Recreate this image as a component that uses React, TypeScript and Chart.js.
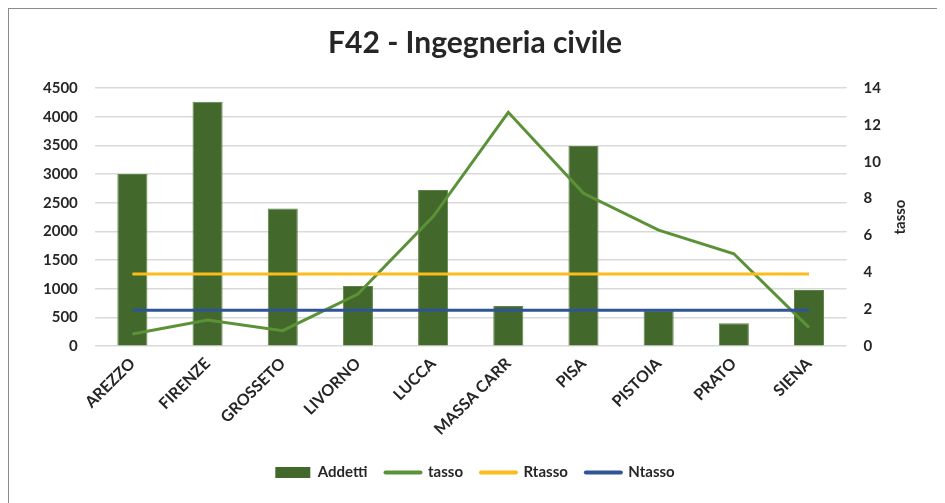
import React, { useEffect, useRef } from "react";
import { Chart, registerables } from "chart.js";

Chart.register(...registerables);

const categories = ["AREZZO", "FIRENZE", "GROSSETO", "LIVORNO", "LUCCA", "MASSA CARR", "PISA", "PISTOIA", "PRATO", "SIENA"];
const addetti = [3000, 4260, 2400, 1050, 2720, 700, 3490, 620, 400, 980];
const tasso = [0.66, 1.42, 0.84, 2.82, 7.03, 12.68, 8.29, 6.29, 5.01, 1.0];
const rtasso = [3.91, 3.91, 3.91, 3.91, 3.91, 3.91, 3.91, 3.91, 3.91, 3.91];
const ntasso = [1.95, 1.95, 1.95, 1.95, 1.95, 1.95, 1.95, 1.95, 1.95, 1.95];

const FONT = "Lato, 'Open Sans', sans-serif";
const TEXT = "#262626";

const rightTitlePlugin = {
  id: "rightTitle",
  afterDraw(chart: any) {
    const s = chart.scales.y1;
    if (!s) return;
    const ctx = chart.ctx;
    ctx.save();
    ctx.translate(s.right - 24, (chart.chartArea.top + chart.chartArea.bottom) / 2);
    ctx.rotate(-Math.PI / 2);
    ctx.font = `bold 15px ${FONT}`;
    ctx.fillStyle = TEXT;
    ctx.textAlign = "center";
    ctx.textBaseline = "middle";
    ctx.fillText("tasso", 0, 0);
    ctx.restore();
  },
};

export default function App() {
  const ref = useRef<HTMLCanvasElement | null>(null);
  useEffect(() => {
    if (!ref.current) return;
    const chart = new Chart(ref.current, {
      type: "bar",
      data: {
        labels: categories,
        datasets: [
          {
            type: "bar",
            label: "Addetti",
            data: addetti,
            backgroundColor: "#43682B",
            borderColor: "#5E8449",
            borderWidth: 1,
            borderSkipped: "bottom",
            barPercentage: 0.4,
            categoryPercentage: 1,
            yAxisID: "y",
            order: 4,
          } as any,
          {
            type: "line",
            label: "tasso",
            data: tasso,
            borderColor: "#5B9238",
            backgroundColor: "#5B9238",
            borderWidth: 3,
            pointRadius: 0,
            yAxisID: "y1",
            order: 3,
          },
          {
            type: "line",
            label: "Rtasso",
            data: rtasso,
            borderColor: "#FBBC1C",
            backgroundColor: "#FBBC1C",
            borderWidth: 3,
            pointRadius: 0,
            yAxisID: "y1",
            order: 2,
          },
          {
            type: "line",
            label: "Ntasso",
            data: ntasso,
            borderColor: "#2F5597",
            backgroundColor: "#2F5597",
            borderWidth: 3,
            pointRadius: 0,
            yAxisID: "y1",
            order: 1,
          },
        ],
      },
      options: {
        animation: false,
        responsive: true,
        maintainAspectRatio: false,
        layout: { padding: { left: 17, right: 21, top: 0, bottom: 13 } },
        plugins: {
          title: {
            display: true,
            text: "F42 - Ingegneria civile",
            color: TEXT,
            font: { family: FONT, size: 30, weight: "bold" },
            padding: { top: 16, bottom: 27 },
          },
          legend: {
            position: "bottom",
            labels: {
              usePointStyle: true,
              pointStyleWidth: 35,
              boxHeight: 11,
              padding: 18,
              color: TEXT,
              font: { family: FONT, size: 15, weight: "bold" },
              sort: (a: any, b: any) => a.datasetIndex - b.datasetIndex,
              generateLabels: (chart: any) => {
                const items = Chart.defaults.plugins.legend.labels.generateLabels(chart);
                return items.map((it: any) => {
                  if (it.datasetIndex === 0) {
                    return { ...it, fillStyle: "#43682B", pointStyle: "rect", lineWidth: 0, strokeStyle: "rgba(0,0,0,0)" };
                  }
                  const ds = chart.data.datasets[it.datasetIndex];
                  return { ...it, pointStyle: "line", lineWidth: 4, strokeStyle: ds.borderColor, lineCap: "round" };
                });
              },
            },
          },
          tooltip: { enabled: false },
        },
        scales: {
          x: {
            grid: { display: false, drawTicks: false },
            border: { display: false },
            ticks: {
              color: TEXT,
              font: { family: FONT, size: 16, weight: "bold" },
              maxRotation: 45,
              minRotation: 45,
              padding: 8,
              autoSkip: false,
            },
          },
          y: {
            position: "left",
            min: 0,
            max: 4500,
            grid: { color: "#D9D9D9", lineWidth: 1.5, drawTicks: false },
            border: { display: false },
            ticks: {
              stepSize: 500,
              color: TEXT,
              font: { family: FONT, size: 15, weight: "bold" },
              padding: 17,
              callback: (v: any) => String(v),
            },
          },
          y1: {
            position: "right",
            min: 0,
            max: 14,
            grid: { drawOnChartArea: false, drawTicks: false },
            border: { display: false },
            ticks: {
              stepSize: 2,
              color: TEXT,
              font: { family: FONT, size: 15, weight: "bold" },
              padding: 17,
              callback: (v: any) => String(v),
            },
            title: {
              display: true,
              text: "tasso",
              color: "rgba(0,0,0,0)",
              font: { family: FONT, size: 15, weight: "bold" },
              padding: { top: 4, bottom: 4 },
            },
          },
        },
      },
      plugins: [rightTitlePlugin],
    });
    return () => chart.destroy();
  }, []);

  return (
    <div
      style={{
        width: 937,
        height: 495,
        borderTop: "1.5px solid #8c8c8c",
        borderLeft: "1.5px solid #8c8c8c",
        boxSizing: "border-box",
        position: "relative",
        background: "#fff",
      }}
    >
      <canvas ref={ref} />
    </div>
  );
}
